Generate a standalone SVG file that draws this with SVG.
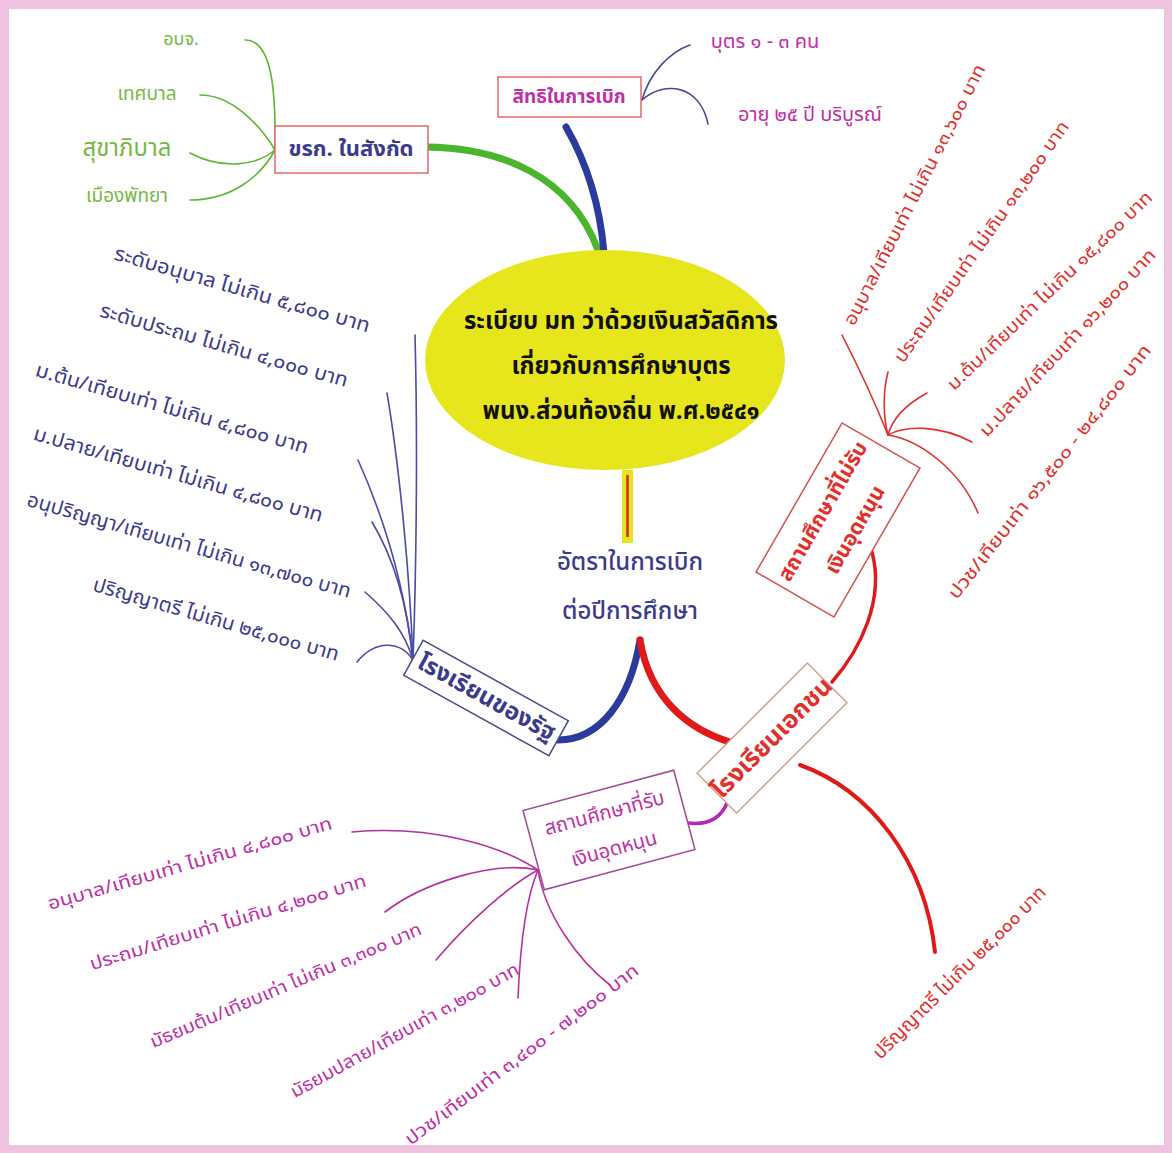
<svg xmlns="http://www.w3.org/2000/svg" width="1172" height="1153" viewBox="0 0 1172 1153">
<defs>
<style>
text{font-family:"Noto Sans Thai","Noto Sans","DejaVu Sans",sans-serif;text-anchor:middle;dominant-baseline:central}
.navy{fill:#3b3b8e}
.mag{fill:#c02fa8}
.red{fill:#e2302c}
.grn{fill:#78b843}
.box{fill:#fff;stroke-width:1.5}
.thin{fill:none;stroke-width:1.6;stroke-linecap:round}
.thick{fill:none;stroke-width:7;stroke-linecap:round}
</style>
</defs>
<rect x="0" y="0" width="1172" height="1153" fill="#efc3df"/>
<rect x="9" y="9" width="1155" height="1136" fill="#ffffff"/>

<g id="connectors">
<path class="thick" stroke="#4cb52e" d="M427,147 C500,148 570,175 598,250"/>
<path class="thick" stroke="#2b3b9c" d="M566,127 C588,165 600,205 604,253"/>
<path class="thick" stroke="#2b3b9c" d="M558,740 C600,740 630,700 640,640"/>
<path class="thick" stroke="#e01a1a" d="M640,640 C650,700 690,730 730,742"/>
<path fill="none" stroke="#e01a1a" stroke-width="3.5" stroke-linecap="round" d="M872,552 C885,600 860,650 832,682"/>
<path fill="none" stroke="#e01a1a" stroke-width="4" stroke-linecap="round" d="M800,765 C870,790 925,860 935,952"/>
<path fill="none" stroke="#b02cb0" stroke-width="3.5" stroke-linecap="round" d="M727,803 C720,820 705,825 688,823"/>
<rect x="622" y="470" width="11" height="73" fill="#e7e61d"/>
<line x1="627.5" y1="475" x2="627.5" y2="537" stroke="#d8252a" stroke-width="2.5"/>
<g stroke="#5cb832">
<path class="thin" stroke-width="3" d="M245,40 C272,40 276,90 275,150"/>
<path class="thin" stroke-width="3" d="M200,95 C232,95 260,125 275,150"/>
<path class="thin" stroke-width="3" d="M190,153 C222,170 256,166 275,150"/>
<path class="thin" stroke-width="3" d="M190,200 C230,200 260,178 275,150"/>
</g>
<g stroke="#4a4a92">
<path class="thin" d="M642,100 C650,72 670,52 690,45"/>
<path class="thin" d="M642,100 C665,80 700,85 708,124"/>
</g>
<g stroke="#4b4ba8">
<path class="thin" d="M415,335 C418,450 416,580 413,660"/>
<path class="thin" d="M387,393 C400,470 410,580 413,660"/>
<path class="thin" d="M358,460 C385,520 405,590 413,660"/>
<path class="thin" d="M372,522 C395,560 408,610 413,660"/>
<path class="thin" d="M365,592 C388,612 405,632 413,660"/>
<path class="thin" d="M357,662 C375,640 400,640 413,660"/>
</g>
<g stroke="#e0302c">
<path class="thin" d="M842,335 C860,370 878,410 888,435"/>
<path class="thin" d="M888,372 C882,395 884,420 888,435"/>
<path class="thin" d="M927,393 C905,405 892,420 888,435"/>
<path class="thin" d="M972,442 C940,425 905,425 888,435"/>
<path class="thin" d="M978,513 C960,470 920,440 888,435"/>
</g>
<g stroke="#b8309e">
<path class="thin" d="M352,832 C430,825 500,845 538,870"/>
<path class="thin" d="M385,912 C420,885 490,860 538,870"/>
<path class="thin" d="M436,960 C470,920 510,885 538,870"/>
<path class="thin" d="M518,998 C520,950 525,900 538,870"/>
<path class="thin" d="M610,985 C578,960 545,915 538,870"/>
</g>
</g>

<g id="center">
<ellipse cx="605" cy="360" rx="180" ry="110" fill="#e7e61d"/>
<text x="621" y="322" font-size="24" font-weight="bold" fill="#111">ระเบียบ มท ว่าด้วยเงินสวัสดิการ</text>
<text x="621" y="367" font-size="24" font-weight="bold" fill="#111">เกี่ยวกับการศึกษาบุตร</text>
<text x="621" y="412" font-size="24" font-weight="bold" fill="#111">พนง.ส่วนท้องถิ่น พ.ศ.๒๕๔๑</text>
</g>

<g id="rate">
<text class="navy" x="630" y="563" font-size="24" font-weight="500">อัตราในการเบิก</text>
<text class="navy" x="630" y="612" font-size="24" font-weight="500">ต่อปีการศึกษา</text>
</g>

<g id="officials">
<rect class="box" stroke="#e06a6a" x="275" y="126" width="153" height="47"/>
<text class="navy" x="351" y="149" font-size="22" font-weight="bold">ขรก. ในสังกัด</text>
</g>
<g id="officials-items">
<text class="grn" x="181" y="39" font-size="18">อบจ.</text>
<text class="grn" x="147" y="94" font-size="19">เทศบาล</text>
<text class="grn" x="127" y="149" font-size="24">สุขาภิบาล</text>
<text class="grn" x="127" y="196" font-size="19">เมืองพัทยา</text>
</g>

<g id="rights">
<rect class="box" stroke="#e06a6a" x="498" y="77" width="143" height="40"/>
<text class="mag" x="569" y="97" font-size="19" font-weight="bold">สิทธิในการเบิก</text>
</g>
<g id="rights-items">
<text class="mag" x="765" y="42" font-size="20">บุตร ๑ - ๓ คน</text>
<text class="mag" x="810" y="115" font-size="20">อายุ ๒๕ ปี บริบูรณ์</text>
</g>

<g id="state-school">
<g transform="translate(486,698) rotate(29)">
<rect class="box" stroke="#4a4a8a" x="-83" y="-20" width="166" height="40"/>
<text class="navy" x="0" y="0" font-size="24" font-weight="bold">โรงเรียนของรัฐ</text>
</g>
</g>
<g id="state-items" class="navy" font-size="20">
<text transform="translate(242,290) rotate(16)" textLength="265" lengthAdjust="spacingAndGlyphs">ระดับอนุบาล ไม่เกิน  ๕,๘๐๐ บาท</text>
<text transform="translate(224,346) rotate(16)" textLength="257" lengthAdjust="spacingAndGlyphs">ระดับประถม ไม่เกิน ๔,๐๐๐ บาท</text>
<text transform="translate(172,409) rotate(16)" textLength="283" lengthAdjust="spacingAndGlyphs">ม.ต้น/เทียบเท่า ไม่เกิน ๔,๘๐๐ บาท</text>
<text transform="translate(178,475) rotate(16)" textLength="300" lengthAdjust="spacingAndGlyphs">ม.ปลาย/เทียบเท่า ไม่เกิน ๔,๘๐๐ บาท</text>
<text transform="translate(189,546) rotate(16)" textLength="336" lengthAdjust="spacingAndGlyphs">อนุปริญญา/เทียบเท่า ไม่เกิน ๑๓,๗๐๐ บาท</text>
<text transform="translate(216,620) rotate(16)" textLength="255" lengthAdjust="spacingAndGlyphs">ปริญญาตรี ไม่เกิน ๒๕,๐๐๐ บาท</text>
</g>

<g id="private-school">
<g transform="translate(772,738) rotate(-45)">
<rect class="box" stroke="#d4a08e" x="-78" y="-28" width="156" height="56"/>
<text class="red" x="0" y="0" font-size="25" font-weight="bold">โรงเรียนเอกชน</text>
</g>
</g>

<g id="unsubsidized">
<g transform="translate(838,520) rotate(-60)">
<rect class="box" stroke="#d85050" x="-86" y="-45" width="172" height="90"/>
<text class="red" x="0" y="-17" font-size="21" font-weight="bold">สถานศึกษาที่ไม่รับ</text>
<text class="red" x="0" y="20" font-size="21" font-weight="bold">เงินอุดหนุน</text>
</g>
</g>
<g id="unsubsidized-items" class="red" font-size="18">
<text transform="translate(915,195) rotate(-63)" textLength="290" lengthAdjust="spacingAndGlyphs">อนุบาล/เทียบเท่า ไม่เกิน ๑๓,๖๐๐ บาท</text>
<text transform="translate(982,242) rotate(-55)" textLength="290" lengthAdjust="spacingAndGlyphs">ประถม/เทียบเท่า ไม่เกิน ๑๓,๒๐๐ บาท</text>
<text transform="translate(1050,291) rotate(-44)" textLength="277" lengthAdjust="spacingAndGlyphs">ม.ต้น/เทียบเท่า ไม่เกิน ๑๕,๘๐๐ บาท</text>
<text transform="translate(1068,343) rotate(-47)" textLength="249" lengthAdjust="spacingAndGlyphs">ม.ปลาย/เทียบเท่า ๑๖,๒๐๐ บาท</text>
<text transform="translate(1050,472) rotate(-52)" textLength="317" lengthAdjust="spacingAndGlyphs">ปวช/เทียบเท่า ๑๖,๕๐๐ - ๒๔,๘๐๐ บาท</text>
</g>

<g id="bachelor-private">
<text class="red" font-size="19" transform="translate(960,973) rotate(-45)">ปริญญาตรี ไม่เกิน ๒๕,๐๐๐ บาท</text>
</g>

<g id="subsidized">
<g transform="translate(609,830) rotate(-15)">
<rect class="box" stroke="#a04aa0" x="-78" y="-41" width="156" height="82"/>
<text class="mag" x="0" y="-17" font-size="20">สถานศึกษาที่รับ</text>
<text class="mag" x="0" y="20" font-size="20">เงินอุดหนุน</text>
</g>
</g>
<g id="subsidized-items" class="mag" font-size="18">
<text transform="translate(190,864) rotate(-16)" textLength="295" lengthAdjust="spacingAndGlyphs">อนุบาล/เทียบเท่า ไม่เกิน ๔,๘๐๐ บาท</text>
<text transform="translate(228,923) rotate(-17)" textLength="288" lengthAdjust="spacingAndGlyphs">ประถม/เทียบเท่า ไม่เกิน ๔,๒๐๐ บาท</text>
<text transform="translate(286,986) rotate(-23)" textLength="293" lengthAdjust="spacingAndGlyphs">มัธยมต้น/เทียบเท่า ไม่เกิน ๓,๓๐๐ บาท</text>
<text transform="translate(405,1031) rotate(-29)" textLength="258" lengthAdjust="spacingAndGlyphs">มัธยมปลาย/เทียบเท่า ๓,๒๐๐ บาท</text>
<text transform="translate(522,1055) rotate(-37)" textLength="287" lengthAdjust="spacingAndGlyphs">ปวช/เทียบเท่า ๓,๔๐๐ - ๗,๒๐๐ บาท</text>
</g>
</svg>
